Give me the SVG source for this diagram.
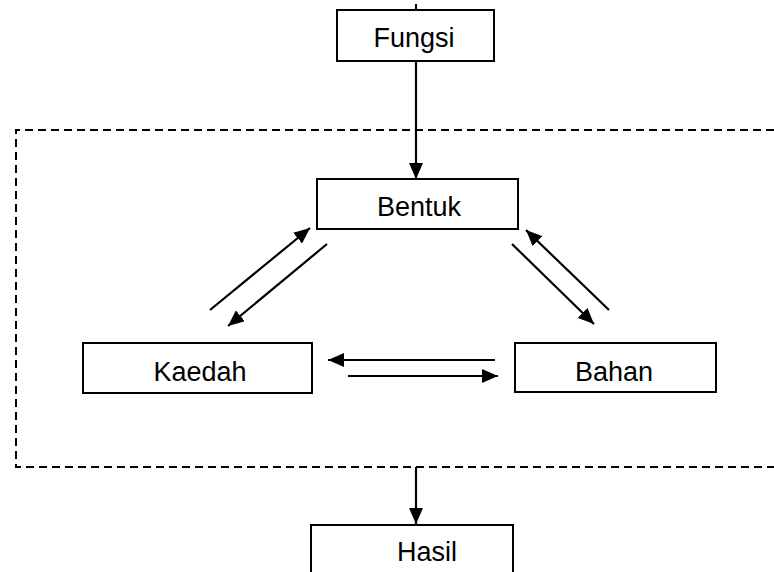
<svg xmlns="http://www.w3.org/2000/svg" width="774" height="572" viewBox="0 0 774 572">
<defs>
<marker id="ah" viewBox="0 0 16 14" refX="16" refY="7" markerWidth="16" markerHeight="14" markerUnits="userSpaceOnUse" orient="auto">
<path d="M0,0 L16,7 L0,14 Z" fill="#000"/>
</marker>
<style>
.box{fill:#fff;stroke:#000;stroke-width:2}
.lbl{font-family:"Liberation Sans",Arial,sans-serif;font-size:27px;fill:#000;text-anchor:middle}
.arr{stroke:#000;stroke-width:2.2;fill:none;marker-end:url(#ah)}
.ln{stroke:#000;stroke-width:2;fill:none}
.dash{stroke:#000;stroke-width:2;fill:none;stroke-dasharray:8,5}
</style>
</defs>
<rect width="774" height="572" fill="#fff"/>
<path class="dash" d="M774,130 H16 V467 H774"/>
<g id="connectors">
<line class="ln" x1="416" y1="4" x2="416" y2="10"/>
<line class="arr" x1="416" y1="61" x2="416" y2="179"/>
<line class="arr" x1="210" y1="310" x2="310" y2="228"/>
<line class="arr" x1="327" y1="244" x2="228" y2="326"/>
<line class="arr" x1="512" y1="244" x2="594" y2="324"/>
<line class="arr" x1="609" y1="310" x2="526" y2="230"/>
<line class="arr" x1="495" y1="360" x2="328" y2="360"/>
<line class="arr" x1="348" y1="376" x2="498" y2="376"/>
<line class="arr" x1="416" y1="467" x2="416" y2="524"/>
</g>
<g id="fungsi"><rect class="box" x="337" y="10" width="157" height="51"/><text class="lbl" x="414" y="47">Fungsi</text></g>
<g id="bentuk"><rect class="box" x="317" y="179" width="201" height="50"/><text class="lbl" x="419" y="216">Bentuk</text></g>
<g id="kaedah"><rect class="box" x="83" y="343" width="229" height="50"/><text class="lbl" x="200" y="381">Kaedah</text></g>
<g id="bahan"><rect class="box" x="515" y="343" width="201" height="49"/><text class="lbl" x="614" y="381">Bahan</text></g>
<g id="hasil"><rect class="box" x="311" y="525" width="202" height="60"/><text class="lbl" x="427" y="561">Hasil</text></g>
</svg>
